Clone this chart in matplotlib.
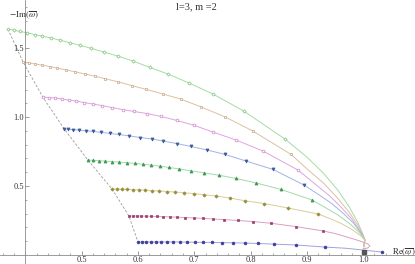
import matplotlib
matplotlib.use("Agg")
import matplotlib.pyplot as plt
import numpy as np

plt.rcParams['font.family'] = ['Liberation Serif', 'DejaVu Serif']
plt.rcParams['mathtext.fontset'] = 'stix'

# ---- data ----
g1_x = [0.369, 0.380, 0.390, 0.403, 0.417, 0.430, 0.446, 0.462, 0.479, 0.497,
        0.517, 0.540, 0.565, 0.591, 0.621, 0.653, 0.691, 0.733, 0.788, 0.861]
g1_y = [1.639, 1.631, 1.622, 1.612, 1.599, 1.588, 1.574, 1.558, 1.540, 1.521,
        1.499, 1.472, 1.442, 1.407, 1.361, 1.313, 1.247, 1.168, 1.044, 0.841]
g1_tx = [0.900, 0.930, 0.955, 0.975, 0.990, 0.999, 1.003, 1.001]
g1_ty = [0.710, 0.590, 0.470, 0.350, 0.240, 0.155, 0.108, 0.060]

t2_x = [0.396, 0.406, 0.417, 0.430, 0.444, 0.456, 0.472, 0.488, 0.506, 0.524,
        0.541, 0.565, 0.589, 0.614, 0.644, 0.676, 0.712, 0.755, 0.804, 0.872]
t2_y = [1.400, 1.393, 1.386, 1.377, 1.367, 1.356, 1.343, 1.329, 1.313, 1.297,
        1.279, 1.256, 1.229, 1.202, 1.168, 1.131, 1.074, 1.001, 0.899, 0.729]
t2_tx = [0.900, 0.930, 0.955, 0.975, 0.990, 0.999, 1.003, 1.001]
t2_ty = [0.625, 0.520, 0.410, 0.310, 0.220, 0.150, 0.108, 0.060]

p3_x = [0.431, 0.442, 0.453, 0.465, 0.477, 0.490, 0.504, 0.520, 0.536, 0.554,
        0.573, 0.593, 0.616, 0.641, 0.669, 0.700, 0.733, 0.774, 0.822, 0.884]
p3_y = [1.146, 1.142, 1.139, 1.131, 1.124, 1.117, 1.106, 1.095, 1.084, 1.069,
        1.055, 1.041, 1.026, 1.005, 0.976, 0.940, 0.892, 0.834, 0.754, 0.616]
p3_tx = [0.910, 0.940, 0.960, 0.980, 0.993, 1.001, 1.003, 1.001]
p3_ty = [0.530, 0.430, 0.350, 0.260, 0.180, 0.130, 0.108, 0.060]

b4_x = [0.469, 0.476, 0.485, 0.495, 0.508, 0.520, 0.534, 0.550, 0.566, 0.584,
        0.604, 0.625, 0.644, 0.669, 0.694, 0.723, 0.755, 0.792, 0.840, 0.895]
b4_y = [0.914, 0.911, 0.909, 0.905, 0.901, 0.896, 0.890, 0.882, 0.874, 0.864,
        0.852, 0.841, 0.827, 0.808, 0.787, 0.761, 0.729, 0.681, 0.620, 0.507]
b4_tx = [0.920, 0.945, 0.965, 0.983, 0.995, 1.003, 1.001]
b4_ty = [0.440, 0.370, 0.300, 0.230, 0.165, 0.108, 0.060]

g5_x = [0.511, 0.520, 0.531, 0.541, 0.554, 0.566, 0.581, 0.595, 0.609, 0.623,
        0.639, 0.655, 0.673, 0.694, 0.717, 0.744, 0.774, 0.810, 0.854, 0.909]
g5_y = [0.689, 0.686, 0.684, 0.681, 0.677, 0.674, 0.669, 0.664, 0.658, 0.652,
        0.644, 0.635, 0.624, 0.610, 0.596, 0.578, 0.555, 0.522, 0.475, 0.399]
g5_tx = [0.930, 0.955, 0.975, 0.990, 1.000, 1.003, 1.001]
g5_ty = [0.350, 0.290, 0.230, 0.175, 0.130, 0.108, 0.060]

o6_x = [0.554, 0.563, 0.572, 0.581, 0.591, 0.602, 0.612, 0.625, 0.637, 0.652,
        0.666, 0.682, 0.700, 0.717, 0.739, 0.763, 0.790, 0.824, 0.867, 0.920]
o6_y = [0.478, 0.478, 0.477, 0.475, 0.474, 0.472, 0.470, 0.467, 0.464, 0.460,
        0.457, 0.451, 0.445, 0.437, 0.427, 0.413, 0.393, 0.373, 0.340, 0.297]
o6_tx = [0.940, 0.960, 0.980, 0.995, 1.003, 1.001]
o6_ty = [0.265, 0.230, 0.185, 0.140, 0.108, 0.060]

m7_x = [0.584, 0.591, 0.598, 0.605, 0.614, 0.623, 0.634, 0.644, 0.657, 0.669,
        0.684, 0.700, 0.716, 0.733, 0.753, 0.778, 0.804, 0.836, 0.881, 0.929]
m7_y = [0.282, 0.282, 0.282, 0.282, 0.281, 0.280, 0.279, 0.277, 0.276, 0.274,
        0.271, 0.268, 0.265, 0.261, 0.256, 0.250, 0.242, 0.230, 0.205, 0.174]
m7_tx = [0.950, 0.975, 0.995, 1.008, 1.012, 1.008, 1.000]
m7_ty = [0.155, 0.125, 0.100, 0.080, 0.065, 0.050, 0.045]

b8_x = [0.600, 0.607, 0.614, 0.623, 0.632, 0.641, 0.652, 0.662, 0.675, 0.687,
        0.701, 0.716, 0.732, 0.749, 0.769, 0.790, 0.813, 0.842, 0.881, 0.932, 1.033]
b8_y = [0.094, 0.094, 0.094, 0.094, 0.094, 0.094, 0.094, 0.094, 0.094, 0.093,
        0.092, 0.091, 0.091, 0.089, 0.088, 0.086, 0.083, 0.078, 0.072, 0.057, 0.021]
b8_tx = [0.970, 1.000]
b8_ty = [0.048, 0.035]

end_x = [1.002]
end_y = [0.020]

x_ticks = [0.5, 0.6, 0.7, 0.8, 0.9, 1.0]
y_ticks = [0.5, 1.0, 1.5]
title = "l=3, m =2"

series = [
    # markers, tail, marker, marker color, line color, filled
    (g1_x, g1_y, g1_tx, g1_ty, 'D', '#7cc47c', '#a6dba6', False),
    (t2_x, t2_y, t2_tx, t2_ty, 's', '#c9a27e', '#dcc0a4', False),
    (p3_x, p3_y, p3_tx, p3_ty, 'o', '#cf82cf', '#dda6dd', False),
    (b4_x, b4_y, b4_tx, b4_ty, 'v', '#3d5a9e', '#a2b4e0', True),
    (g5_x, g5_y, g5_tx, g5_ty, '^', '#3d9a55', '#a3d9ab', True),
    (o6_x, o6_y, o6_tx, o6_ty, 'D', '#9a8d3d', '#dacd96', True),
    (m7_x, m7_y, m7_tx, m7_ty, 's', '#9a3d72', '#dc9fc0', True),
    (b8_x, b8_y, b8_tx, b8_ty, 'o', '#3d3d9a', '#a2a2dc', True),
]

fig = plt.figure(figsize=(4.15, 2.64), dpi=100)
ax = fig.add_axes([0, 0, 1, 1])
ax.set_xlim(0.355, 1.092)
ax.set_ylim(-0.066, 1.850)

# dashed line through starting points
sx = [s[0][0] for s in series]
sy = [s[1][0] for s in series]
ax.plot(sx, sy, ls=(0, (3, 2)), color='#9a9a9a', lw=0.6, zorder=1)

for i, (mx, my, tx, ty, mk, mc, lc, filled) in enumerate(series):
    if i == len(series) - 1:
        # bottom curve: last marker lies beyond the tail
        lx = mx[:-1] + tx + mx[-1:]
        ly = my[:-1] + ty + my[-1:]
    else:
        lx = mx + tx
        ly = my + ty
    ax.plot(lx, ly, color=lc, lw=0.7, zorder=2)
    size = {'D': 1.7, 's': 1.9, 'o': 2.0, 'v': 2.2, '^': 2.2}[mk]
    ax.plot(mx, my, ls='none', marker=mk, ms=size,
            mfc=mc if filled else 'white', mec=mc, mew=0.5, zorder=3)

ax.plot(end_x, end_y, ls='none', marker='s', ms=2.2, mfc='#555555', mec='#555555', zorder=4)

# Mathematica-like axes
for s in ['top', 'right']:
    ax.spines[s].set_visible(False)
ax.spines['left'].set_position(('data', 0.4))
ax.spines['bottom'].set_position(('data', 0.0))
for s in ['left', 'bottom']:
    ax.spines[s].set_color('#8a8a8a')
    ax.spines[s].set_linewidth(0.6)

ax.set_xticks(x_ticks)
ax.set_xticklabels([f"{v:.1f}" for v in x_ticks])
ax.set_yticks(y_ticks)
ax.set_yticklabels([f"{v:.1f}" for v in y_ticks])
ax.set_xticks(np.arange(0.36, 1.09, 0.02), minor=True)
ax.set_yticks(np.arange(0.1, 1.85, 0.1), minor=True)
ax.tick_params(which='major', direction='in', length=3, width=0.6, color='#8a8a8a',
               labelsize=6, labelcolor='#333333', pad=1)
ax.tick_params(which='minor', direction='in', length=1.5, width=0.5, color='#8a8a8a')

ax.text(24 / 415, 1 - 15.5 / 264, r'$-\mathrm{Im}(\overline{\omega})$', transform=ax.transAxes,
        ha='center', va='center', fontsize=6.5, color='#333333')
ax.text(404 / 415, 1 - 252 / 264, r'$\mathrm{Re}(\overline{\omega})$', transform=ax.transAxes,
        ha='center', va='center', fontsize=6.5, color='#333333')
ax.text(196 / 415, 1 - 6.5 / 264, title, transform=ax.transAxes,
        ha='center', va='center', fontsize=7.5, color='#333333')

fig.savefig('out.png', dpi=100)
